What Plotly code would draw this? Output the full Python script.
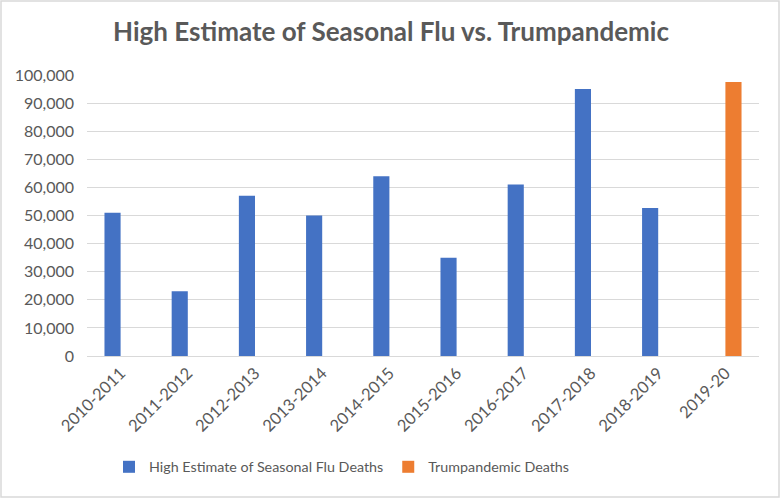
import plotly.graph_objects as go

seasons = ["2010-2011", "2011-2012", "2012-2013", "2013-2014", "2014-2015",
           "2015-2016", "2016-2017", "2017-2018", "2018-2019", "2019-20"]
flu_deaths = [51000, 23000, 57000, 50000, 64000, 35000, 61000, 95000, 52700, None]
trump_deaths = [None, None, None, None, None, None, None, None, None, 97500]

W, H = 782, 500
L, R, T, B = 87, 23, 75, 144
pw, ph = W - L - R, H - T - B

fig = go.Figure()
fig.add_trace(go.Bar(x=seasons, y=flu_deaths, name="High Estimate of Seasonal Flu Deaths",
                     marker=dict(color="#4472C4", line=dict(width=0))))
fig.add_trace(go.Bar(x=seasons, y=trump_deaths, name="Trumpandemic Deaths",
                     marker=dict(color="#ED7D31", line=dict(width=0))))

font_family = "Lato, 'Open Sans', sans-serif"
fig.update_layout(
    width=W, height=H,
    margin=dict(l=L, r=R, t=T, b=B, autoexpand=False),
    paper_bgcolor="white", plot_bgcolor="white",
    barmode="group", bargap=0.52, bargroupgap=0,
    font=dict(family=font_family, color="#595959", size=14),
    title=dict(text="<b>High Estimate of Seasonal Flu vs. Trumpandemic</b>",
               x=0.5, xanchor="center", y=1 - 32 / H, yanchor="middle",
               font=dict(size=26, color="#595959", family=font_family)),
    xaxis=dict(tickangle=-45, showgrid=False, showline=True, linecolor="#D9D9D9",
               linewidth=1, ticks="", tickfont=dict(size=16.5, color="#595959")),
    yaxis=dict(range=[0, 100000], dtick=10000, tickformat=",", showgrid=True,
               gridcolor="#D9D9D9", gridwidth=1, zeroline=False, showline=False,
               ticks="", ticklabelstandoff=12, tickfont=dict(size=16, color="#595959")),
    legend=dict(orientation="h", x=(109 - L) / pw, xanchor="left", y=-(467 - 356) / ph,
                yanchor="middle", font=dict(size=14.3, color="#595959"),
                itemwidth=30, traceorder="normal"),
    showlegend=True,
)
# outer chart border
fig.add_shape(type="rect", xref="paper", yref="paper",
              x0=-(L - 1) / pw, x1=1 + (R - 3) / pw, y0=-(B - 3) / ph, y1=1 + (T - 1) / ph,
              line=dict(color="#D9D9D9", width=1.5), fillcolor="rgba(0,0,0,0)", layer="below")

fig.write_html("out.html", config={"displayModeBar": False},
               post_script="document.body.style.margin='0';")
